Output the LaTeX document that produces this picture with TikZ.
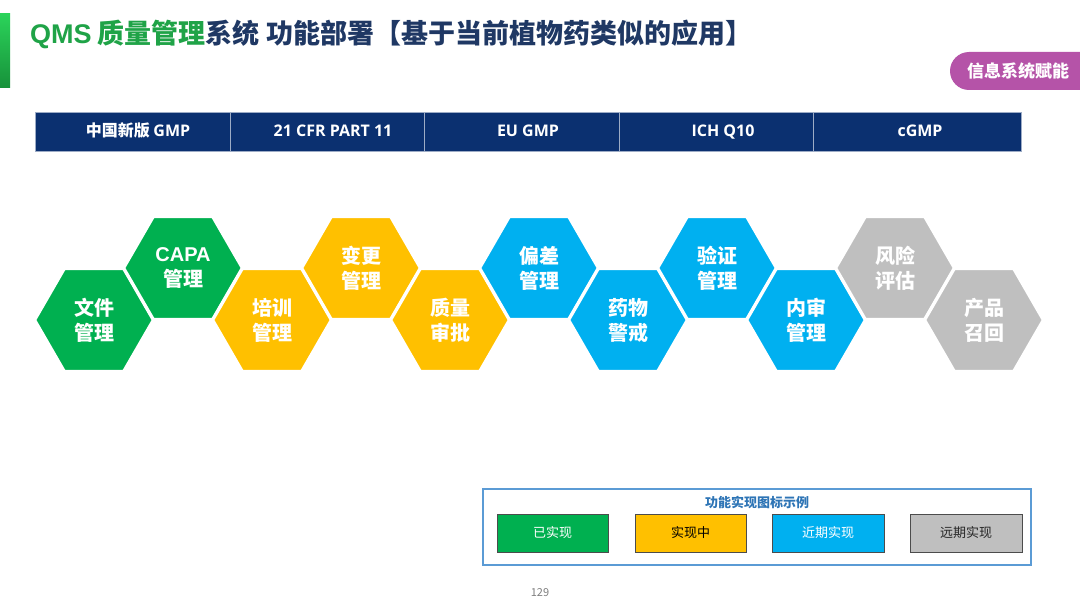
\documentclass[tikz,border=0pt]{standalone}
\usepackage{fontspec}
\setmainfont{Noto Sans CJK SC}
\newfontfamily\osf{Open Sans}
\newfontfamily\arl{Liberation Sans}
\usetikzlibrary{shapes.geometric}
\definecolor{cgreen}{HTML}{00B050}
\definecolor{cyellow}{HTML}{FFC000}
\definecolor{cblue}{HTML}{00B0F0}
\definecolor{cgrey}{HTML}{BFBFBF}
\definecolor{navy}{HTML}{0B3070}
\definecolor{tnavy}{HTML}{1F3864}
\definecolor{tgreen}{HTML}{1FA347}
\definecolor{badge}{HTML}{B553A8}
\definecolor{lblue}{HTML}{5B9BD5}
\definecolor{ltitle}{HTML}{2E75B6}
\definecolor{bartop}{HTML}{2BD35A}
\definecolor{barbot}{HTML}{17913A}
\tikzset{
  hexa/.style={regular polygon, regular polygon sides=6, minimum size=118.6pt,
    inner sep=0pt, fill=#1, draw=white, line width=3pt, text=white,
    font=\bfseries\fontsize{20}{25}\selectfont, align=center},
  hdr/.style={fill=navy, draw=navy!40!white, line width=0.8pt, inner sep=0pt},
  hdrtxt/.style={text=white, anchor=base, inner sep=0pt, font=\bfseries\fontsize{16}{18}\selectfont},
  legbox/.style={draw=black!70, line width=1pt, inner sep=0pt, fill=#1},
  legtxt/.style={font=\fontsize{13}{15}\selectfont}
}
\begin{document}
\begin{tikzpicture}[x=1pt,y=-1pt]
\useasboundingbox (0,0) rectangle (1080,607);
\fill[white] (0,0) rectangle (1080,607);
% title bar
\shade[top color=bartop, bottom color=barbot] (0,14) rectangle (10,88);
\node[anchor=west, inner sep=0pt, font=\bfseries\fontsize{27}{30}\selectfont] (title) at (30,34)
  {\textcolor{tgreen}{{\arl QMS} 质量管理}\textcolor{tnavy}{系统 功能部署【基于当前植物药类似的应用】}};
% badge
\fill[badge, rounded corners=19pt] (1110,52) -- (950,52) -- (950,90) -- (1110,90) -- cycle;
\node[text=white, font=\bfseries\fontsize{17}{19}\selectfont, inner sep=0pt] (badge) at (1018,71) {信息系统赋能};
% header cells
\path[hdr] (35,112) rectangle (230,151);
\path[hdr] (230,112) rectangle (424,151);
\path[hdr] (424,112) rectangle (619,151);
\path[hdr] (619,112) rectangle (813,151);
\path[hdr] (813,112) rectangle (1021,151);
\node[hdrtxt] (h1) at (138,137) {中国新版 {\osf GMP}};
\node[hdrtxt] (h2) at (333,137) {\osf 21 CFR PART 11};
\node[hdrtxt] (h3) at (528,137) {\osf EU GMP};
\node[hdrtxt] (h4) at (723,137) {\osf ICH Q10};
\node[hdrtxt] (h5) at (920,137) {\osf cGMP};
% hexagons
\node[hexa=cgreen] (x1) at (94,320) {文件\\管理};
\node[hexa=cgreen] (x2) at (183,268) {{\arl CAPA}\\管理};
\node[hexa=cyellow] (x3) at (272,320) {培训\\管理};
\node[hexa=cyellow] (x4) at (361,268) {变更\\管理};
\node[hexa=cyellow] (x5) at (450,320) {质量\\审批};
\node[hexa=cblue] (x6) at (539,268) {偏差\\管理};
\node[hexa=cblue] (x7) at (628,320) {药物\\警戒};
\node[hexa=cblue] (x8) at (717,268) {验证\\管理};
\node[hexa=cblue] (x9) at (806,320) {内审\\管理};
\node[hexa=cgrey] (x10) at (895,268) {风险\\评估};
\node[hexa=cgrey] (x11) at (984,320) {产品\\召回};
% legend
\draw[lblue, line width=1.5pt] (483,489) rectangle (1031,565);
\node[text=ltitle, font=\bfseries\fontsize{13}{15}\selectfont] (lt) at (757,502) {功能实现图标示例};
\path[legbox=cgreen] (497,514) rectangle (608,552);
\path[legbox=cyellow] (635,514) rectangle (746,552);
\path[legbox=cblue] (772,514) rectangle (884,552);
\path[legbox=cgrey] (910,514) rectangle (1022,552);
\node[legtxt, text=white] (l1) at (552.5,533) {已实现};
\node[legtxt, text=black] (l2) at (690.5,533) {实现中};
\node[legtxt, text=white] (l3) at (828,533) {近期实现};
\node[legtxt, text=black!85] (l4) at (966,533) {远期实现};
% page number
\node[text=black!50, font=\fontsize{11}{13}\selectfont] (pg) at (540,593) {129};
\end{tikzpicture}
\end{document}
